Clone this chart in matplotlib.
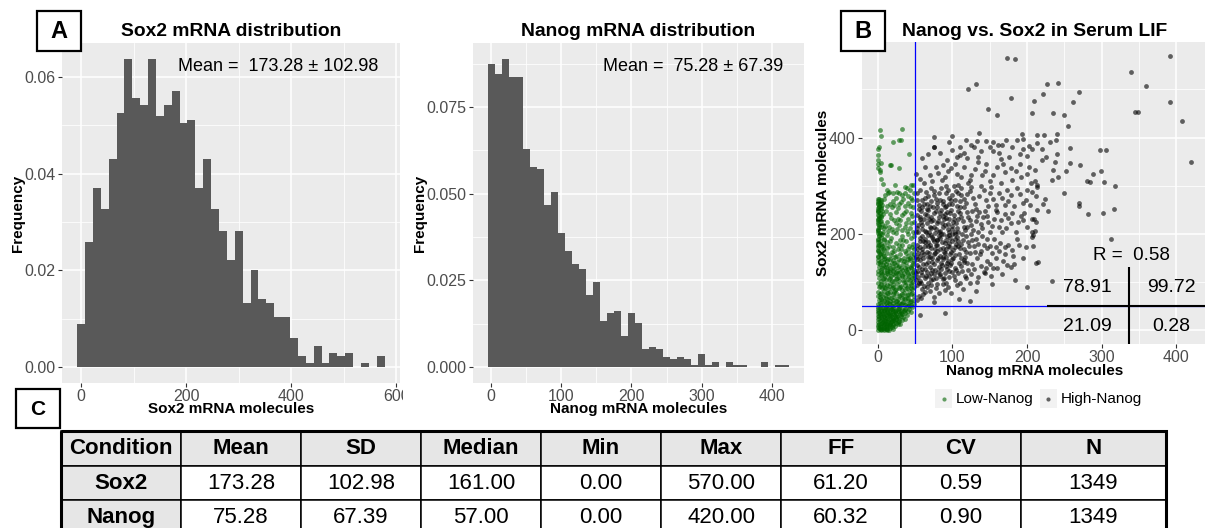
import numpy as np
import matplotlib
matplotlib.use("Agg")
import matplotlib.pyplot as plt
from matplotlib.patches import Rectangle
from matplotlib.ticker import FixedLocator, FormatStrFormatter
from matplotlib.transforms import Bbox, TransformedBbox

plt.rcParams['font.family'] = ['Liberation Sans', 'DejaVu Sans']

# ---------------------------------------------------------------- data
n_cells = 1349

# Sox2 histogram: cell counts per 15-molecule bin (bins centred on 0, 15, ... 570)
sox2_binwidth = 15
sox2_counts = [12, 35, 50, 44, 58, 71, 86, 75, 73, 86, 70, 73, 77, 68, 69, 50, 58, 44,
               38, 30, 38, 18, 27, 19, 18, 14, 14, 8, 3, 1, 6, 1, 4, 3, 4, 0, 1, 0, 3]

# Nanog histogram: cell counts per 10-molecule bin (bins centred on 0, 10, ... 420)
nanog_binwidth = 10
nanog_counts = [118, 114, 120, 113, 113, 85, 78, 77, 63, 68, 52, 45, 40, 38, 28, 33, 18,
                21, 22, 12, 21, 17, 7, 8, 7, 4, 3, 4, 3, 1, 5, 1, 2, 0, 2, 1, 1, 0, 0, 2,
                0, 1, 1]

sox2_mean, sox2_sd = 173.28, 102.98
nanog_mean, nanog_sd = 75.28, 67.39

# summary table
table_columns = ["Condition", "Mean", "SD", "Median", "Min", "Max", "FF", "CV", "N"]
table_sox2 = ["Sox2", "173.28", "102.98", "161.00", "0.00", "570.00", "61.20", "0.59", "1349"]
table_nanog = ["Nanog", "75.28", "67.39", "57.00", "0.00", "420.00", "60.32", "0.90", "1349"]

# scatter: (Nanog, Sox2) molecules per cell
low_nanog_cells = [
    (3, 416), (4, 403), (32, 418), (29, 395), (20, 390), (31, 394), (1, 377), (2, 381), (42, 365),
    (0, 363), (1, 354), (5, 347), (0, 346), (16, 344), (18, 343), (28, 337), (1, 336), (3, 332),
    (3, 329), (4, 315), (7, 303), (23, 301), (47, 301), (36, 297), (39, 295), (45, 302), (43, 291),
    (15, 287), (14, 285), (21, 285), (29, 284), (37, 285),
    (25, 275), (34, 273), (2, 272), (5, 270), (1, 268), (41, 278), (44, 274), (46, 270), (3, 264),
    (0, 262), (6, 260), (16, 263), (22, 260), (28, 262), (36, 258), (40, 264), (2, 256), (4, 252),
    (19, 256), (27, 253), (47, 255), (1, 250),
    (0, 246), (3, 244), (7, 242), (16, 241), (32, 239), (44, 243), (2, 238), (5, 235), (1, 231),
    (22, 229), (27, 232), (38, 222), (3, 227), (0, 224), (6, 221), (12, 225), (43, 213), (2, 218),
    (4, 214), (19, 211), (33, 208), (1, 210), (0, 206), (7, 204), (25, 201), (41, 199), (47, 205),
    (3, 202), (14, 207), (36, 214), (29, 218), (10, 216),
    (30, 187), (45, 191), (2, 197), (5, 194), (9, 190), (18, 192), (0, 188), (3, 185), (12, 184),
    (24, 182), (38, 186), (47, 180), (1, 178), (6, 176), (15, 175), (21, 172), (33, 177), (42, 174),
    (4, 170), (0, 167), (9, 166), (27, 168), (36, 165), (48, 169), (2, 162), (7, 159), (13, 160),
    (18, 157), (30, 158), (44, 160), (0, 155), (4, 152), (10, 151), (23, 153), (35, 150), (40, 155),
    (47, 152), (16, 148),
    (1, 146), (5, 144), (8, 147), (12, 143), (20, 145), (26, 142), (31, 146), (38, 141), (43, 145),
    (49, 143), (0, 139), (3, 137), (7, 136), (11, 138), (15, 135), (19, 139), (24, 136), (29, 134),
    (34, 138), (39, 133), (46, 136), (2, 131), (6, 129), (9, 132), (13, 128), (17, 130), (22, 127),
    (27, 131), (32, 126), (36, 130), (41, 127), (45, 129), (48, 125), (0, 124), (4, 122), (8, 121),
    (12, 124), (16, 120), (20, 123), (25, 119), (30, 122), (35, 118), (39, 121), (44, 118), (47, 121),
    (1, 116), (5, 114), (10, 113), (14, 116), (18, 112), (23, 115), (28, 111), (33, 114), (37, 110),
    (42, 113), (46, 109), (49, 114), (2, 108), (7, 106), (11, 104), (15, 107), (19, 103), (24, 106),
    (29, 102), (34, 105), (38, 101), (43, 104), (47, 100),
    (0, 98), (4, 96), (9, 97), (13, 94), (17, 98), (21, 93), (26, 96), (31, 92), (36, 95), (40, 91),
    (45, 94), (48, 90), (2, 89), (6, 87), (10, 88), (14, 85), (19, 87), (23, 84), (28, 88), (33, 83),
    (37, 86), (42, 82), (46, 85), (1, 80), (5, 78), (8, 81), (12, 77), (16, 79), (20, 75), (25, 78),
    (30, 74), (35, 77), (39, 73), (44, 76), (49, 72), (0, 71), (3, 69), (7, 70), (11, 67), (15, 70),
    (18, 66), (22, 69), (27, 65), (32, 68), (37, 64), (41, 67), (47, 63), (2, 62), (6, 60), (9, 61),
    (13, 58), (17, 60), (21, 57), (24, 61), (29, 56), (34, 59), (38, 55), (43, 58), (1, 54), (4, 52),
    (8, 53), (12, 51), (16, 54), (19, 50), (23, 53), (28, 51), (31, 55), (36, 52), (40, 50), (45, 52),
    (0, 48), (3, 46), (7, 47), (10, 45), (14, 47), (18, 44), (21, 46), (25, 43), (29, 47), (33, 44),
    (37, 42), (42, 45), (46, 48), (1, 41), (5, 40), (9, 39), (12, 41), (16, 38), (20, 40), (23, 37),
    (27, 39), (31, 36), (35, 40), (44, 38), (0, 35), (3, 33), (7, 34), (11, 32), (14, 35), (18, 31),
    (22, 33), (26, 30), (30, 34), (39, 32), (2, 29), (5, 27), (9, 28), (13, 26), (17, 29), (20, 25),
    (24, 27), (28, 24), (34, 28), (0, 23), (4, 21), (8, 22), (11, 20), (15, 23), (19, 19), (22, 21),
    (27, 18), (32, 22), (1, 17), (6, 15), (10, 16), (13, 14), (17, 16), (21, 13), (25, 15), (30, 12),
    (0, 11), (3, 9), (7, 10), (11, 8), (15, 10), (19, 7), (23, 9), (2, 5), (5, 3), (9, 4), (13, 2),
    (17, 5), (21, 3), (0, 1), (4, 0), (8, 1), (12, 0),
    (1, 44), (5, 43), (9, 42), (12, 44), (16, 42), (19, 45), (23, 41), (27, 44), (31, 41), (36, 45),
    (40, 39), (2, 37), (6, 36), (10, 35), (13, 37), (17, 34), (21, 36), (25, 33), (29, 38), (33, 33),
    (37, 36), (1, 30), (4, 31), (8, 30), (12, 29), (15, 31), (19, 28), (23, 30), (27, 27), (31, 29),
    (36, 24), (2, 25), (6, 24), (10, 25), (14, 22), (18, 24), (21, 22), (25, 24), (29, 20), (3, 19),
    (7, 18), (10, 19), (14, 18), (18, 17), (23, 19), (27, 13), (2, 14), (5, 12), (9, 13), (12, 11),
    (16, 12), (20, 10), (1, 7), (5, 6), (9, 7), (13, 6), (17, 8), (3, 2), (7, 2), (11, 3), (15, 1),
    (0, 272), (1, 265), (2, 259), (0, 253), (1, 247), (0, 240), (2, 234), (1, 228), (0, 221),
    (2, 215), (1, 208), (0, 201), (2, 195), (1, 190), (0, 184), (2, 178), (1, 172), (0, 165),
    (3, 159), (1, 153), (4, 266), (5, 255), (6, 248), (4, 237), (5, 226), (8, 212), (6, 200),
    (8, 188), (5, 180), (7, 168), (4, 160), (8, 154),
    (11, 248), (18, 234), (24, 246), (30, 228), (35, 244), (40, 232), (46, 238), (13, 197), (20, 203),
    (26, 210), (33, 196), (39, 207), (45, 222), (49, 196), (9, 178), (16, 186), (22, 164), (28, 178),
    (34, 188), (41, 168), (46, 172), (12, 170), (19, 163), (25, 155), (31, 168), (38, 160), (43, 150),
    (49, 158), (10, 280), (13, 292), (26, 288), (33, 280), (48, 285), (8, 272), (20, 268), (31, 266),
    (43, 258), (12, 258), (38, 248), (24, 222), (15, 215), (48, 225),
    (3, 142), (9, 141), (14, 149), (22, 140), (28, 147), (35, 143), (41, 149), (47, 140), (5, 126),
    (11, 131), (16, 125), (21, 132), (26, 124), (31, 130), (38, 126), (44, 132), (6, 117), (13, 119),
    (21, 116), (27, 118), (32, 112), (40, 116), (48, 111), (4, 103), (9, 108), (17, 109), (22, 102),
    (26, 108), (35, 100), (41, 106), (45, 99), (3, 92), (8, 90), (15, 92), (20, 89), (25, 86),
    (30, 90), (39, 87), (44, 88), (3, 75), (10, 73), (14, 78), (22, 79), (28, 72), (33, 76), (41, 74),
    (46, 78), (5, 65), (13, 64), (20, 63), (26, 60), (35, 66), (40, 62), (45, 61), (3, 57), (11, 56),
    (15, 57), (26, 54), (33, 57), (42, 53), (48, 55),
]

high_nanog_cells = [
    (173, 566), (184, 564), (392, 569), (339, 537), (359, 507), (131, 512), (121, 500), (227, 512),
    (242, 514), (269, 495), (221, 490), (179, 482), (209, 477), (262, 474), (391, 474), (148, 460),
    (160, 447), (207, 451), (235, 452), (249, 447), (345, 454), (348, 454), (408, 435), (255, 425),
    (193, 408), (136, 410), (195, 397), (214, 406), (223, 406), (240, 408), (239, 395), (231, 391),
    (76, 401), (99, 403), (118, 395), (133, 393), (155, 390), (161, 384), (167, 384), (76, 381),
    (129, 381), (195, 377), (202, 382), (207, 377), (214, 388), (220, 377), (258, 378), (298, 374),
    (306, 374),
    (420, 349), (240, 366), (225, 359), (220, 353), (237, 349), (257, 348), (271, 344), (211, 332),
    (235, 332), (252, 330), (288, 324), (299, 330), (242, 319), (233, 313), (280, 309), (284, 307),
    (303, 307), (318, 299), (213, 301), (214, 298), (205, 305), (250, 286), (212, 279), (224, 272),
    (222, 263), (204, 261), (270, 264), (269, 258), (317, 252), (228, 247), (214, 249), (281, 241),
    (302, 243), (209, 232), (206, 231), (207, 204), (208, 197), (206, 194), (312, 190), (208, 174),
    (215, 142), (212, 139),
    (233, 102), (200, 89), (184, 105), (90, 36), (56, 31), (75, 59), (124, 61), (109, 64),
    (58, 68), (98, 78), (114, 86), (131, 82), (153, 96), (123, 99), (133, 101), (104, 104), (82, 78),
    (70, 82), (61, 76), (94, 90), (144, 118), (167, 117), (155, 129), (145, 130), (151, 138),
    (173, 136), (178, 132), (183, 138), (168, 143), (181, 154), (170, 173), (158, 151), (189, 177),
    (199, 173), (175, 177), (115, 146),
    (68, 365), (75, 381), (88, 343), (93, 353), (106, 360), (110, 363), (51, 325), (53, 285),
    (52, 62), (55, 72), (60, 85), (66, 90), (53, 94), (58, 98), (72, 95), (78, 88), (87, 97), (63, 80),
    (75, 70), (106, 93), (90, 84), (118, 108),
    (51, 104), (54, 110), (57, 103), (60, 115), (63, 108), (66, 120), (69, 112), (72, 104), (75, 117),
    (78, 109), (81, 122), (84, 113), (87, 106), (90, 119), (93, 127), (96, 110), (99, 121), (52, 124),
    (55, 131), (58, 121), (61, 137), (64, 128), (67, 141), (70, 132), (73, 125), (76, 138), (79, 145),
    (82, 131), (85, 140), (88, 148), (91, 134), (94, 143), (97, 136), (100, 149), (103, 129),
    (108, 118), (112, 133), (116, 141), (121, 126), (126, 138),
    (51, 152), (54, 160), (57, 155), (59, 168), (62, 158), (64, 175), (66, 163), (68, 184), (70, 153),
    (72, 170), (74, 190), (76, 158), (78, 177), (80, 165), (82, 195), (84, 155), (86, 183), (88, 170),
    (90, 160), (92, 188), (94, 176), (96, 198), (98, 162), (100, 185), (103, 172), (106, 193),
    (109, 158), (112, 180), (115, 168), (118, 196), (122, 175), (126, 187), (130, 162), (135, 180),
    (140, 195), (146, 170), (53, 178), (56, 192), (61, 186), (67, 197), (73, 150), (79, 187),
    (85, 199), (91, 152), (97, 191), (104, 157), (110, 170), (117, 152), (124, 160), (133, 150),
    (150, 176), (156, 190), (162, 165), (138, 165),
    (51, 205), (54, 218), (57, 230), (60, 210), (63, 242), (66, 222), (69, 203), (72, 235), (75, 215),
    (78, 248), (81, 226), (84, 207), (87, 238), (90, 218), (93, 245), (96, 230), (99, 210), (102, 240),
    (105, 222), (108, 203), (111, 235), (115, 215), (119, 245), (123, 228), (128, 208), (133, 238),
    (138, 220), (144, 248), (150, 205), (156, 232), (163, 215), (170, 242), (178, 222), (185, 205),
    (192, 238), (200, 214), (52, 240), (58, 247), (65, 205), (71, 226), (77, 201), (83, 244), (89, 230),
    (95, 205), (101, 225), (107, 247), (113, 200), (120, 215), (126, 247), (135, 205), (141, 235),
    (148, 225), (160, 245), (167, 204), (175, 233), (195, 228), (210, 206), (212, 224),
    (55, 252), (60, 270), (65, 288), (70, 258), (75, 280), (80, 265), (85, 295), (90, 255), (95, 275),
    (100, 262), (105, 290), (110, 268), (115, 255), (120, 282), (125, 298), (130, 262), (136, 278),
    (142, 292), (148, 258), (155, 272), (162, 286), (170, 260), (178, 280), (186, 296), (195, 265),
    (66, 262), (92, 286), (112, 295), (128, 275), (150, 285), (175, 268), (200, 292),
    (62, 305), (70, 322), (78, 340), (86, 312), (94, 330), (103, 345), (112, 318), (121, 305),
    (130, 335), (140, 322), (150, 310), (160, 340), (170, 328), (180, 312), (190, 345), (200, 325),
    (108, 302), (125, 322), (145, 345), (165, 305), (185, 330),
    (100, 375), (115, 368), (125, 385), (135, 360), (145, 392), (155, 372), (165, 355), (180, 380),
    (190, 365), (120, 358), (150, 380), (172, 395),
    (53, 135), (57, 145), (61, 150), (65, 137), (69, 160), (73, 142), (77, 168), (81, 150), (85, 128),
    (89, 162), (93, 140), (97, 172), (101, 150), (105, 180), (109, 140), (52, 168), (56, 185),
    (60, 196), (64, 190), (68, 175), (72, 198), (76, 185), (80, 178), (84, 192), (88, 200), (92, 168),
    (96, 182), (100, 200), (104, 190), (108, 185), (54, 205), (58, 225), (62, 230), (66, 240),
    (70, 215), (74, 228), (78, 210), (82, 235), (86, 222), (90, 242), (94, 210), (98, 250), (102, 232),
    (106, 212), (110, 255), (55, 260), (60, 255), (64, 275), (68, 250), (72, 268), (76, 290),
    (80, 255), (84, 270), (88, 262), (92, 300), (96, 262), (100, 280), (104, 270), (108, 285),
    (116, 272),
    (51, 118), (55, 98), (59, 127), (62, 92), (65, 112), (68, 99), (71, 118), (74, 107), (77, 126),
    (80, 96), (83, 117), (86, 135), (89, 109), (92, 98), (95, 124), (98, 140), (102, 112), (105, 126),
    (110, 98), (113, 124), (117, 112), (120, 139), (125, 116), (129, 128), (134, 110), (138, 133),
    (142, 122), (147, 144), (152, 112), (160, 130),
    (52, 148), (56, 172), (60, 162), (63, 183), (67, 152), (70, 178), (73, 194), (77, 160), (80, 188),
    (83, 168), (87, 153), (90, 181), (93, 196), (97, 158), (101, 166), (104, 199), (107, 175),
    (111, 150), (114, 188), (118, 163), (121, 184), (125, 199), (129, 174), (132, 190), (137, 158),
    (142, 178), (147, 189), (153, 160), (158, 172), (164, 182), (171, 158), (180, 166), (186, 190),
    (194, 150),
    (52, 212), (56, 236), (59, 219), (63, 206), (66, 251), (69, 232), (72, 213), (75, 244), (79, 222),
    (82, 203), (85, 250), (88, 214), (91, 233), (94, 220), (97, 243), (100, 216), (104, 205),
    (107, 231), (110, 244), (114, 226), (117, 209), (121, 236), (125, 219), (131, 227), (136, 246),
    (140, 212), (146, 238), (153, 216), (158, 250), (165, 228), (172, 212), (180, 244), (188, 225),
    (196, 244),
    (53, 270), (57, 292), (62, 262), (67, 278), (71, 296), (74, 256), (78, 272), (82, 286), (87, 268),
    (91, 258), (94, 292), (98, 270), (102, 299), (106, 258), (111, 280), (118, 264), (123, 290),
    (132, 252), (138, 300), (145, 270), (152, 297), (158, 260), (166, 275), (173, 292), (183, 258),
    (190, 282), (198, 270), (206, 288),
    (56, 315), (64, 338), (73, 310), (81, 326), (90, 318), (98, 336), (106, 324), (116, 340),
    (124, 312), (135, 350), (144, 330), (155, 322), (168, 345), (178, 336), (192, 318), (203, 340),
    (210, 310), (60, 358), (84, 368), (96, 390), (110, 380), (138, 372), (162, 368), (176, 360),
    (186, 395), (200, 362),
]

nanog_threshold = 50
sox2_threshold = 50
correlation_r = 0.58
quadrant_pct = {"upper_left": 78.91, "upper_right": 99.72,
                "lower_left": 21.09, "lower_right": 0.28}

# ---------------------------------------------------------------- layout helpers
W, H = 1205, 528
fig = plt.figure(figsize=(W / 100, H / 100), dpi=100)


def px_rect(x0, y0, x1, y1):
    return [x0 / W, 1 - y1 / H, (x1 - x0) / W, (y1 - y0) / H]


PANEL_BG = '#EBEBEB'
TICK_TXT = '#4D4D4D'


def ggplot_axes(ax):
    ax.set_facecolor(PANEL_BG)
    for sp in ax.spines.values():
        sp.set_visible(False)
    ax.grid(which='major', color='white', lw=1.1)
    ax.grid(which='minor', color='white', lw=0.55)
    ax.set_axisbelow(True)
    ax.tick_params(which='major', length=3, width=0.8, color='#333333',
                   labelsize=11.5, labelcolor=TICK_TXT, pad=1.5)
    ax.tick_params(which='minor', length=0)


def draw_hist(ax, counts, bw, xlim, xticks, xminor, yticks, yminor, yfmt):
    counts = np.asarray(counts, dtype=float)
    centers = np.arange(len(counts)) * bw
    freq = counts / n_cells
    ax.bar(centers, freq, width=bw, color='#595959', linewidth=0, zorder=2)
    ymax = freq.max()
    ax.set_xlim(*xlim)
    ax.set_ylim(-0.05 * ymax, 1.05 * ymax)
    ax.xaxis.set_major_locator(FixedLocator(xticks))
    ax.xaxis.set_minor_locator(FixedLocator(xminor))
    ax.yaxis.set_major_locator(FixedLocator(yticks))
    ax.yaxis.set_minor_locator(FixedLocator(yminor))
    ax.yaxis.set_major_formatter(FormatStrFormatter(yfmt))
    ggplot_axes(ax)


# ---------------------------------------------------------------- panel A: histograms
axA = fig.add_axes(px_rect(61.7, 43.3, 400, 382.5))
draw_hist(axA, sox2_counts, sox2_binwidth, (-36.75, 606.75),
          [0, 200, 400, 600], [100, 300, 500],
          [0, 0.02, 0.04, 0.06], [0.01, 0.03, 0.05], '%.2f')
axA.text(375, 0.0621, f"Mean =  {sox2_mean:.2f} \u00b1 {sox2_sd:.2f}",
         ha='center', va='center', fontsize=13, color='black')
# the left plot is cropped where the neighbouring one starts
clip = TransformedBbox(Bbox([[0, 0], [403 / W, 1]]), fig.transFigure)
for lab in axA.get_xticklabels():
    lab.set_clip_on(True)
    lab.set_clip_box(clip)

axB = fig.add_axes(px_rect(472.7, 43.3, 804.3, 382.5))
draw_hist(axB, nanog_counts, nanog_binwidth, (-26.5, 446.5),
          [0, 100, 200, 300, 400], [50, 150, 250, 350],
          [0, 0.025, 0.05, 0.075], [0.0125, 0.0375, 0.0625, 0.0875], '%.3f')
axB.text(288, 0.0868, f"Mean =  {nanog_mean:.2f} \u00b1 {nanog_sd:.2f}",
         ha='center', va='center', fontsize=13, color='black')

# ---------------------------------------------------------------- panel B: scatter
axS = fig.add_axes(px_rect(862, 42, 1207, 344))
low = np.array(low_nanog_cells, dtype=float)
high = np.array(high_nanog_cells, dtype=float)
axS.scatter(low[:, 0], low[:, 1], s=12, color='#006400', alpha=0.6, linewidths=0, zorder=2)
axS.scatter(high[:, 0], high[:, 1], s=12, color='black', alpha=0.6, linewidths=0, zorder=2)
axS.set_xlim(-21, 441)
axS.set_ylim(-28.5, 598.5)
axS.xaxis.set_major_locator(FixedLocator([0, 100, 200, 300, 400]))
axS.xaxis.set_minor_locator(FixedLocator([50, 150, 250, 350]))
axS.yaxis.set_major_locator(FixedLocator([0, 200, 400]))
axS.yaxis.set_minor_locator(FixedLocator([100, 300, 500]))
ggplot_axes(axS)
axS.axvline(nanog_threshold, color='#0000FF', lw=0.9, zorder=3)
axS.axhline(sox2_threshold, color='#0000FF', lw=0.9, zorder=3)
axS.plot([337, 337], [-40, 131], color='black', lw=1.5, solid_capstyle='butt', zorder=4)
axS.plot([227, 460], [sox2_threshold, sox2_threshold], color='black', lw=1.5,
         solid_capstyle='butt', zorder=4)
axS.text(340, 156, f"R =  {correlation_r:.2f}", ha='center', va='center', fontsize=13.5)
axS.text(281, 88, f"{quadrant_pct['upper_left']:.2f}", ha='center', va='center', fontsize=14)
axS.text(393, 88, f"{quadrant_pct['upper_right']:.2f}", ha='center', va='center', fontsize=14)
axS.text(281, 8, f"{quadrant_pct['lower_left']:.2f}", ha='center', va='center', fontsize=14)
axS.text(393, 8, f"{quadrant_pct['lower_right']:.2f}", ha='center', va='center', fontsize=14)

# ---------------------------------------------------------------- overlay: titles, labels, boxes, table
ov = fig.add_axes([0, 0, 1, 1])
ov.set_xlim(0, W)
ov.set_ylim(H, 0)
ov.axis('off')

title_kw = dict(ha='center', va='center', fontsize=13.9, fontweight='bold')
ov.text(231, 31.5, "Sox2 mRNA distribution", **title_kw)
ov.text(638.5, 31.5, "Nanog mRNA distribution", **title_kw)
ov.text(1035, 31.5, "Nanog vs. Sox2 in Serum LIF", **title_kw)

lab_kw = dict(ha='center', va='center', fontsize=11, fontweight='bold')
ov.text(231, 409, "Sox2 mRNA molecules", **lab_kw)
ov.text(638.5, 409, "Nanog mRNA molecules", **lab_kw)
ov.text(1035, 371, "Nanog mRNA molecules", **lab_kw)
ov.text(18.5, 213, "Frequency", rotation=90, **lab_kw)
ov.text(420.5, 213, "Frequency", rotation=90, **lab_kw)
ov.text(823, 193, "Sox2 mRNA molecules", rotation=90, **lab_kw)

# legend of the scatter
for kx, color, label in [(935, '#006400', "Low-Nanog"), (1039.5, 'black', "High-Nanog")]:
    ov.add_patch(Rectangle((kx, 389), 17, 19, facecolor='#F2F2F2', edgecolor='none'))
    ov.plot(kx + 8.5, 398.5, 'o', ms=3, color=color, alpha=0.6, mec='none')
    ov.text(kx + 21, 399.5, label, ha='left', va='center', fontsize=11)

# panel letters
for (x0, y0, w, h, letter, fs) in [(36.7, 10.7, 44.6, 40.3, "A", 17),
                                   (840.7, 10.7, 44.3, 40.3, "B", 17),
                                   (16, 388.5, 44, 39.5, "C", 15)]:
    ov.add_patch(Rectangle((x0, y0), w, h, facecolor='white', edgecolor='black', lw=1.6))
    ov.text(x0 + w / 2, y0 + h / 2 + 1, letter, ha='center', va='center',
            fontsize=fs, fontweight='bold')

# summary table
col_edges = [61, 181, 301, 421, 541, 661, 781, 901, 1021, 1166]
row_edges = [430.5, 465.5, 499.5, 533.5]
rows = [table_columns, table_sox2, table_nanog]
for r, values in enumerate(rows):
    y0, y1 = row_edges[r], row_edges[r + 1]
    for c, val in enumerate(values):
        x0, x1 = col_edges[c], col_edges[c + 1]
        shaded = (r == 0) or (c == 0)
        ov.add_patch(Rectangle((x0, y0), x1 - x0, y1 - y0,
                               facecolor='#E6E6E6' if shaded else 'white',
                               edgecolor='black', lw=1.1))
        ov.text((x0 + x1) / 2, (y0 + y1) / 2 + 1, val, ha='center', va='center',
                fontsize=16, fontweight='bold' if shaded else 'normal')
ov.add_patch(Rectangle((col_edges[0], row_edges[0]), col_edges[-1] - col_edges[0],
                       row_edges[-1] - row_edges[0], facecolor='none',
                       edgecolor='black', lw=2.2))

fig.savefig("out.png", dpi=100)
